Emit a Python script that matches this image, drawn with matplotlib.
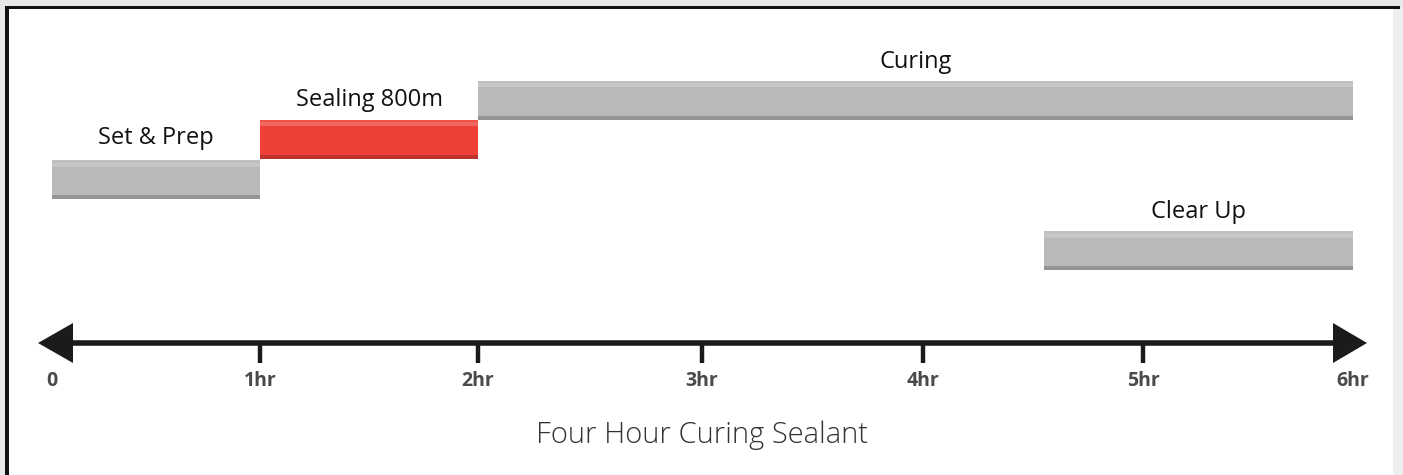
import numpy as np
import matplotlib
matplotlib.use('Agg')
import matplotlib.pyplot as plt
from matplotlib.patches import Rectangle, Polygon
from matplotlib import colors as mcolors

# ---- data ----
tasks = ['Set & Prep', 'Sealing 800m', 'Curing', 'Clear Up']
starts = [0, 1, 2, 4.55]
ends = [1, 2, 6, 6]
bar_colors = ['#b9b9b7', '#ee4036', '#b9b9b7', '#b9b9b7']
tick_hours = [0, 1, 2, 3, 4, 5, 6]
tick_labels = ['0', '1hr', '2hr', '3hr', '4hr', '5hr', '6hr']
title = 'Four Hour Curing Sealant'

# ---- layout ----
W, H = 1403, 475
# pixel position of each hour mark on the drawn timeline (hand-drawn, uneven)
hour_px = [52, 260, 478, 702, 923, 1143, 1353]
row_y = [179.5, 139, 100, 250.5]   # vertical centre of each task bar
label_gap = [16, 14, 12, 13]
bar_h = 39
axis_y = 343


def shade(c, f):
    r, g, b = mcolors.to_rgb(c)
    if f >= 0:
        return (r + (1 - r) * f, g + (1 - g) * f, b + (1 - b) * f)
    return (r * (1 + f), g * (1 + f), b * (1 + f))


def _lin(x, xs, ys):
    x = np.asarray(x, float)
    xs = np.asarray(xs, float)
    ys = np.asarray(ys, float)
    out = np.interp(x, xs, ys)
    sl0 = (ys[1] - ys[0]) / (xs[1] - xs[0])
    sl1 = (ys[-1] - ys[-2]) / (xs[-1] - xs[-2])
    out = np.where(x < xs[0], ys[0] + (x - xs[0]) * sl0, out)
    out = np.where(x > xs[-1], ys[-1] + (x - xs[-1]) * sl1, out)
    return out


def fwd(h):
    return _lin(h, tick_hours, hour_px)


def inv(p):
    return _lin(p, hour_px, tick_hours)


fig = plt.figure(figsize=(W / 100, H / 100), dpi=100)
fig.patch.set_facecolor('#e7e8ea')

# background frame axes (pixel coordinates)
bg = fig.add_axes([0, 0, 1, 1], zorder=0)
bg.set_xlim(0, W)
bg.set_ylim(H, 0)
bg.set_axis_off()
bg.add_patch(Rectangle((9, 9), 1393 - 9, H - 9, facecolor='white', edgecolor='none'))
bg.add_patch(Rectangle((1393, 9), 10, H - 9, facecolor='#eeeeee', edgecolor='none'))
bg.add_patch(Rectangle((5, 5.5), 1395, 3.5, facecolor='#111111', edgecolor='none'))
bg.add_patch(Rectangle((5, 5.5), 3.5, H, facecolor='#111111', edgecolor='none'))

# main axes: x in hours (piecewise scale following the drawn ticks), y in pixels
ax = fig.add_axes([0, 0, 1, 1], zorder=1)
ax.patch.set_alpha(0)
ax.set_xscale('function', functions=(fwd, inv))
ax.set_xlim(float(inv(0)), float(inv(W)))
ax.set_ylim(H, 0)
ax.set_axis_off()

for name, s, e, c, y, g in zip(tasks, starts, ends, bar_colors, row_y, label_gap):
    top = y - bar_h / 2
    bot = y + bar_h / 2
    ax.barh(y, e - s, left=s, height=bar_h, color=c, edgecolor='none')
    # top bevel
    ax.barh(top + 1.25, e - s, left=s, height=2.5, color=shade(c, 0.1), edgecolor='none')
    ax.barh(top + 4.5, e - s, left=s, height=4, color=shade(c, 0.2), edgecolor='none')
    # bottom shadow
    ax.barh(bot - 2, e - s, left=s, height=4, color=shade(c, -0.2), edgecolor='none')
    xm = float(inv((fwd(s) + fwd(e)) / 2))
    ax.text(xm, top - g, name, ha='center', va='baseline',
            fontsize=17, color='#111111', family='Open Sans')

# timeline axis with arrows
line_c = '#1b1b1b'
xl = float(inv(38))
xr = float(inv(1367))
xl_base = float(inv(73))
xr_base = float(inv(1333))
head_half = 20
ax.plot([float(inv(60)), float(inv(1345))], [axis_y, axis_y],
        color=line_c, lw=4.0, solid_capstyle='butt')
ax.add_patch(Polygon([(xl, axis_y), (xl_base, axis_y - head_half),
                      (xl_base, axis_y + head_half)], closed=True,
                     facecolor=line_c, edgecolor='none'))
ax.add_patch(Polygon([(xr, axis_y), (xr_base, axis_y - head_half),
                      (xr_base, axis_y + head_half)], closed=True,
                     facecolor=line_c, edgecolor='none'))
for h, lab in zip(tick_hours, tick_labels):
    if tick_hours[0] < h < tick_hours[-1]:
        ax.plot([h, h], [axis_y, axis_y + 20], color=line_c, lw=3.2,
                solid_capstyle='butt')
    ax.text(h, 381, lab, ha='center', va='center', fontsize=14,
            fontweight='bold', color='#4a4a4a', family='Open Sans')

ax.text(3, 435, title, ha='center', va='center',
        fontsize=21, fontweight='light', color='#333333', family='Open Sans')

fig.savefig('out.png', dpi=100, facecolor=fig.get_facecolor())
